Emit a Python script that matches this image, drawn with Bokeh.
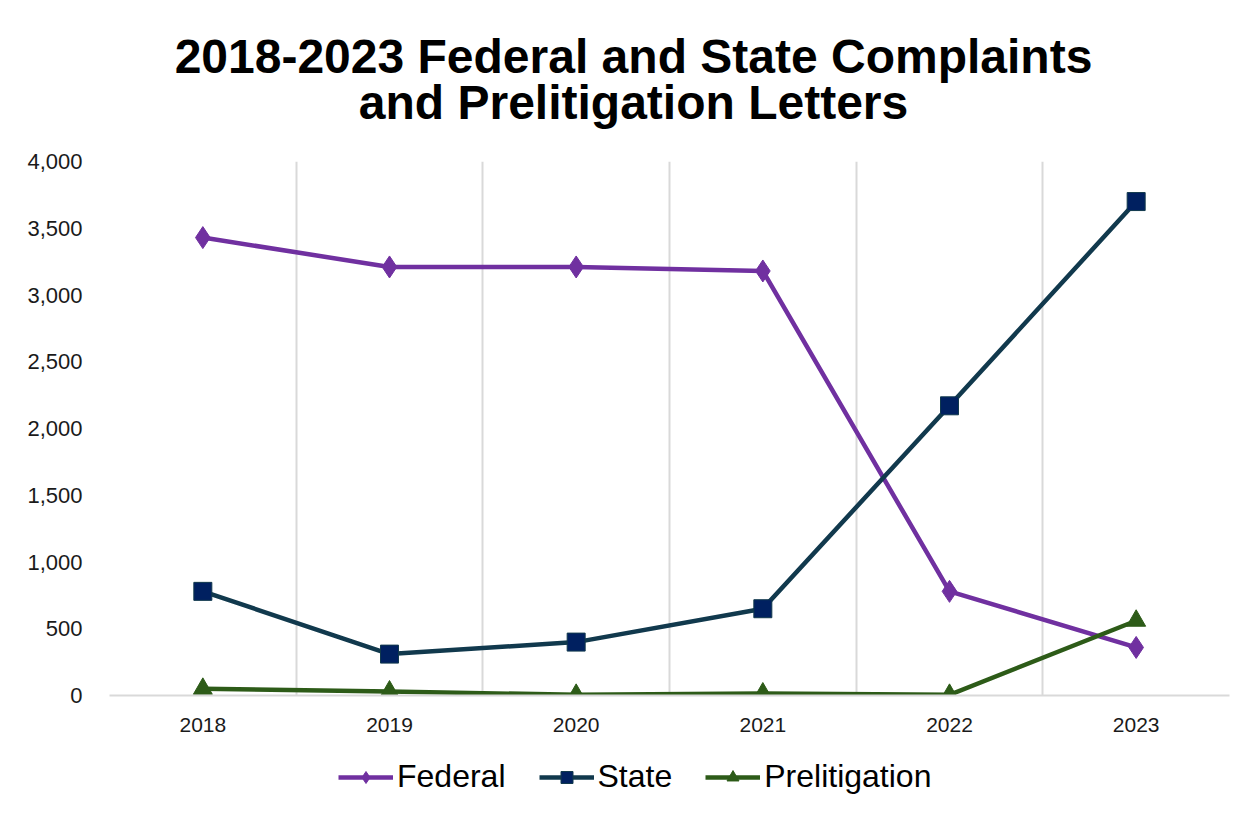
from bokeh.plotting import figure
from bokeh.models import (FactorRange, Range1d, FixedTicker, Grid, Legend, LegendItem,
                          NumeralTickFormatter, ColumnDataSource, Label)
from bokeh.layouts import column
from bokeh.embed import file_html
from bokeh.resources import INLINE

years = ["2018", "2019", "2020", "2021", "2022", "2023"]
federal = [3430, 3210, 3210, 3180, 780, 360]
state = [780, 310, 400, 650, 2170, 3700]
prelitigation = [50, 30, 5, 15, 5, 560]
y_ticks = [0, 500, 1000, 1500, 2000, 2500, 3000, 3500, 4000]
title_line1 = "2018-2023 Federal and State Complaints"
title_line2 = "and Prelitigation Letters"
series_names = ["Federal", "State", "Prelitigation"]

FONT = "Liberation Sans"
W = 1246
FL, FR = 109, 17  # frame borders left / right

fed_col = "#7030A0"
state_line = "#11394d"
state_mark = "#002060"
pre_col = "#2D5B18"


def blank(height):
    f = figure(width=W, height=height, x_range=Range1d(FL, W - FR), y_range=Range1d(height, 0),
               x_axis_type=None, y_axis_type=None, output_backend="svg", toolbar_location=None,
               min_border_left=FL, min_border_right=FR,
               min_border_top=0, min_border_bottom=0)
    f.outline_line_color = None
    f.xgrid.visible = False
    f.ygrid.visible = False
    f.background_fill_color = "white"
    f.border_fill_color = "white"
    return f


# ---- title ----
TH = 140
tf = blank(TH)
for txt, yb in [(title_line1, 56), (title_line2, 102)]:
    tf.add_layout(Label(x=633, y=yb, text=txt, text_font=FONT, text_font_size="48px",
                        text_font_style="bold", text_align="center",
                        text_baseline="alphabetic", text_color="#000000"))

# ---- main chart ----
src = ColumnDataSource(dict(year=years, federal=federal, state=state, pre=prelitigation))
MH = 742 - TH
p = figure(x_range=FactorRange(factors=years, range_padding=0), y_range=Range1d(0, 4000),
           width=W, height=MH, output_backend="svg", toolbar_location=None,
           min_border_left=FL, min_border_right=FR, min_border_top=161 - TH,
           min_border_bottom=742 - 695)
p.outline_line_color = None
p.background_fill_color = "white"
p.border_fill_color = "white"

p.xaxis.axis_line_color = "#d9d9d9"
p.xaxis.axis_line_width = 2
p.xaxis.major_tick_line_color = None
p.xaxis.minor_tick_line_color = None
p.xaxis.major_label_text_font = FONT
p.xaxis.major_label_text_font_size = "21px"
p.xaxis.major_label_text_color = "#1a1a1a"
p.xaxis.major_label_standoff = 16

p.yaxis.axis_line_color = None
p.yaxis.major_tick_line_color = None
p.yaxis.minor_tick_line_color = None
p.yaxis.ticker = FixedTicker(ticks=y_ticks)
p.yaxis.formatter = NumeralTickFormatter(format="0,0")
p.yaxis.major_label_text_font = FONT
p.yaxis.major_label_text_font_size = "22px"
p.yaxis.major_label_text_color = "#1a1a1a"
p.yaxis.major_label_standoff = 21

p.ygrid.grid_line_color = None
p.xgrid.grid_line_color = None
p.add_layout(Grid(dimension=0, ticker=FixedTicker(ticks=list(range(len(years) + 1))),
                  grid_line_color="#d9d9d9", grid_line_width=2))

styles = [
    dict(line_color=fed_col, marker="diamond", size=22, fill_color=fed_col, mline=fed_col),
    dict(line_color=state_line, marker="square", size=18, fill_color=state_mark, mline=state_line),
    dict(line_color=pre_col, marker="triangle", size=19, fill_color=pre_col, mline=pre_col),
]
cols = ["federal", "state", "pre"]
for c, s in zip(cols, styles):
    p.line("year", c, source=src, line_color=s["line_color"], line_width=4.5)
    p.scatter("year", c, source=src, marker=s["marker"], size=s["size"],
              fill_color=s["fill_color"], line_color=s["mline"], line_width=1)

# ---- legend (proxy renderers with no visible data) ----
LH = 810 - 742
lf = blank(LH)
nan = float("nan")
items = []
for name, s in zip(series_names, styles):
    lr = lf.line(x=[nan], y=[nan], line_color=s["line_color"], line_width=4.5)
    mr = lf.scatter(x=[nan], y=[nan], marker=s["marker"], size=s["size"] * 0.8,
                    fill_color=s["fill_color"], line_color=s["mline"], line_width=1)
    items.append(LegendItem(label=name, renderers=[lr, mr]))
legend = Legend(items=items, orientation="horizontal", location=(338 - FL, 15),
                label_text_font=FONT, label_text_font_size="32px", label_text_color="#000000",
                glyph_width=55, glyph_height=30, label_height=30, label_standoff=4, spacing=33,
                border_line_color=None, background_fill_alpha=0, padding=4, margin=0)
lf.add_layout(legend, "center")

layout = column(tf, p, lf, spacing=0)
open("out.html", "w").write(file_html(layout, INLINE))
